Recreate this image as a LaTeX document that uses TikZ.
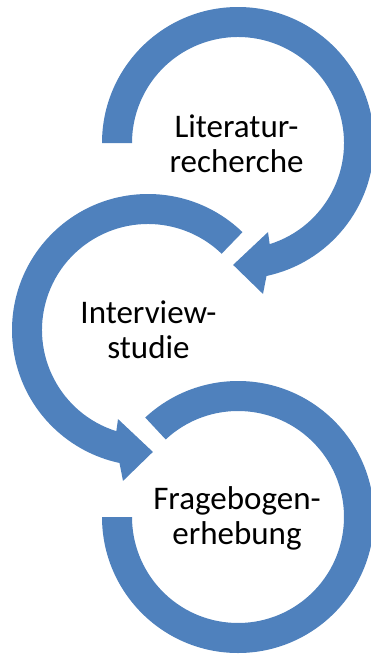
\documentclass[tikz,border=0pt]{standalone}
\usepackage{fontspec}
\setmainfont{Carlito}
\usetikzlibrary{calc}
\definecolor{sablue}{RGB}{79,129,189}
\begin{document}
\begin{tikzpicture}[x=1pt,y=-1pt,
  band/.style={fill=sablue, draw=none},
  lbl/.style={align=center, font=\fontsize{33}{35}\selectfont, inner sep=0pt, anchor=base}]
\useasboundingbox (0,0) rectangle (370,654);
\coordinate (c1) at (238,143);
\coordinate (c2) at (148,330);
\coordinate (c3) at (238,517);
% arrow 1
\fill[band] ($(c1)+(180:136)$) arc[start angle=180, end angle=437.9, radius=136]
  -- ($(c1)+(440.6:153)$) -- ($(c1)+(452.3:122)$) -- ($(c1)+(431.4:94)$) -- ($(c1)+(432.6:106)$)
  arc[start angle=432.6, end angle=180, radius=106] -- cycle;
% arrow 2
\fill[band] ($(c2)+(-46:136)$) arc[start angle=-46, end angle=-257.9, radius=136]
  -- ($(c2)+(-260.6:153)$) -- ($(c2)+(-272.3:122)$) -- ($(c2)+(-251.4:94)$) -- ($(c2)+(-252.6:106)$)
  arc[start angle=-252.6, end angle=-46, radius=106] -- cycle;
% arc 3
\fill[band] ($(c3)+(180:136)$) arc[start angle=180, end angle=-133, radius=136]
  -- ($(c3)+(-133:106)$) arc[start angle=-133, end angle=180, radius=106] -- cycle;
\node[lbl] (t1) at (236.5,172) {Literatur-\\recherche};
\node[lbl] (t2) at (148.5,358) {Interview-\\studie};
\node[lbl] (t3) at (237,544) {Fragebogen-\\erhebung};
\end{tikzpicture}
\end{document}
